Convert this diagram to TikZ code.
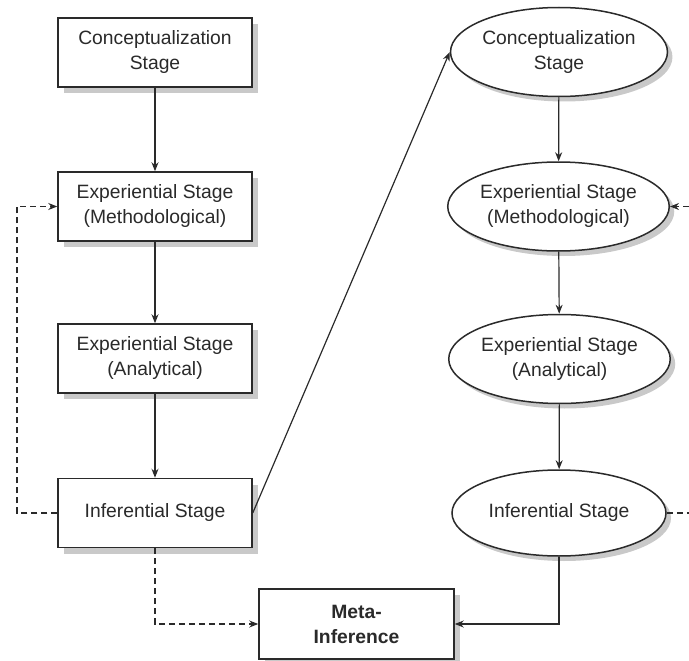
\documentclass[tikz,border=0pt]{standalone}
\usepackage{fontspec}
\setmainfont{Liberation Sans}
\usetikzlibrary{arrows.meta,shadows,shapes.geometric}
\definecolor{ink}{HTML}{2A2A2A}
\definecolor{shade}{HTML}{C9C9C9}
\begin{document}
\begin{tikzpicture}[x=1pt,y=-1pt,
  font=\fontsize{19.3}{25}\selectfont, text=ink,
  every shadow/.style={fill=shade, opacity=1},
  stagebox/.style={draw=ink, line width=1.5pt, fill=white, rectangle,
    minimum width=194pt, minimum height=69pt, inner sep=0pt, align=center,
    drop shadow={shadow xshift=6pt, shadow yshift=-6pt}},
  stageoval/.style={draw=ink, line width=1.5pt, fill=white, ellipse,
    minimum width=215pt, minimum height=89pt, inner sep=0pt, align=center,
    drop shadow={shadow xshift=5pt, shadow yshift=-5pt}},
  flow/.style={draw=ink, line width=1.2pt, -{Stealth[length=9pt,width=7pt]}},
  loop/.style={flow, dash pattern=on 6pt off 4pt},
  loopline/.style={draw=ink, line width=1.2pt, dash pattern=on 6pt off 4pt}]
\useasboundingbox (0,0) rectangle (689,661);

% left column: sequential design
\node[stagebox] (c1) at (155,52.5) {Conceptualization\\Stage};
\node[stagebox] (c2) at (155,206.5) {Experiential Stage\\(Methodological)};
\node[stagebox] (c3) at (155,358.5) {Experiential Stage\\(Analytical)};
\node[stagebox] (c4) at (155,513) {Inferential Stage};

% right column: second strand
\node[stageoval] (e1) at (559,52) {Conceptualization\\Stage};
\node[stageoval] (e2) at (558.5,206.5) {Experiential Stage\\(Methodological)};
\node[stageoval] (e3) at (559.5,359) {Experiential Stage\\(Analytical)};
\node[stageoval, minimum width=214pt, minimum height=86pt] (e4) at (559,513) {Inferential Stage};

% meta-inference
\node[stagebox, minimum width=195pt, minimum height=70pt, font=\fontsize{19.3}{25}\selectfont\bfseries] (meta) at (356.5,624) {Meta-\\Inference};

% helper points for feedback loops
\coordinate (lb) at (17,513);
\coordinate (rout) at (689,513);
\coordinate (rin) at (689,206.5);

% main flow
\draw[flow] (c1) -- (c2);
\draw[flow] (c2) -- (c3);
\draw[flow] (c3) -- (c4);
\draw[flow] (c4.east) -- (e1.west);
\draw[flow] (e1) -- (e2);
\draw[flow] (e2) -- (e3);
\draw[flow] (e3) -- (e4);
\draw[flow] (e4.south) |- (meta.east);
\draw[loop] (c4.south) |- (meta.west);

% feedback loops
\draw[loop] (c4.west) -- (lb) |- (c2.west);
\draw[loopline] (e4.east) -- (rout);
\draw[loop] (rin) -- (e2.east);
\end{tikzpicture}
\end{document}
